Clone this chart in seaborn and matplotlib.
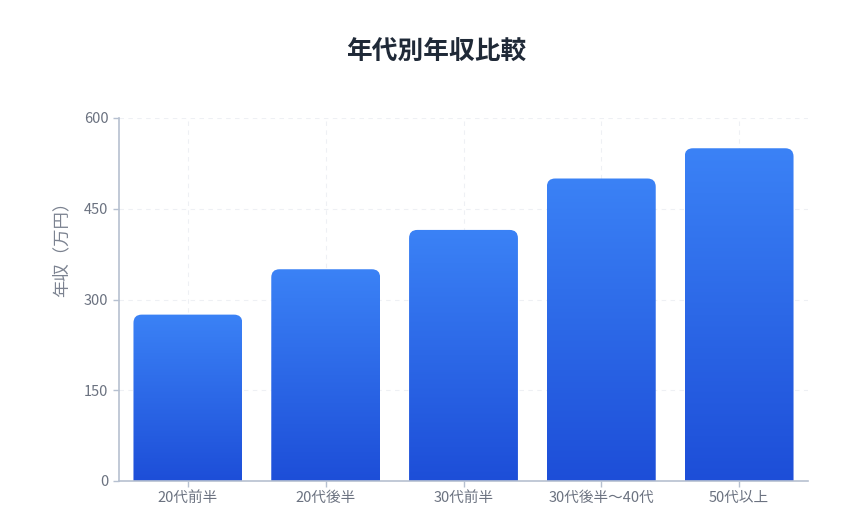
import numpy as np
import pandas as pd
import seaborn as sns
import matplotlib.pyplot as plt
from matplotlib.patches import FancyBboxPatch
from matplotlib.colors import LinearSegmentedColormap

categories = ['20代前半', '20代後半', '30代前半', '30代後半〜40代', '50代以上']
income = [275, 350, 415, 500, 550]
yticks = [0, 150, 300, 450, 600]

df = pd.DataFrame({'age': categories, 'income': income})

sns.set_theme(style='white')
plt.rcParams['font.family'] = ['Noto Sans CJK JP', 'DejaVu Sans']

fig = plt.figure(figsize=(8.6, 5.13), dpi=100)
ax = fig.add_axes([119 / 860, 1 - 481 / 513, (808 - 119) / 860, (481 - 118) / 513])

sns.barplot(data=df, x='age', y='income', ax=ax, width=0.79, color='#2563eb')
ax.set_ylim(0, 600)
ax.set_xlim(-0.5, 4.5)

# gradient bars with rounded tops
cmap = LinearSegmentedColormap.from_list('blu', ['#1d4ed8', '#3b82f6'])
grad = np.linspace(0, 1, 256).reshape(-1, 1)
for p in list(ax.patches):
    x0, w, h = p.get_x(), p.get_width(), p.get_height()
    p.set_visible(False)
    clip = FancyBboxPatch((x0, -20), w, h + 20,
                          boxstyle='round,pad=0,rounding_size=0.06',
                          mutation_aspect=228, transform=ax.transData,
                          facecolor='none', edgecolor='none')
    ax.add_patch(clip)
    im = ax.imshow(grad, cmap=cmap, origin='lower', aspect='auto',
                   extent=(x0, x0 + w, 0, h), zorder=2)
    im.set_clip_path(clip)
ax.set_xlim(-0.5, 4.5)
ax.set_ylim(0, 600)

ax.set_yticks(yticks)
ax.grid(True, color='#eef0f4', linestyle=(0, (4, 4)), linewidth=0.8)
ax.set_axisbelow(True)
for s in ['top', 'right']:
    ax.spines[s].set_visible(False)
for s in ['left', 'bottom']:
    ax.spines[s].set_color('#b6c0d0')
    ax.spines[s].set_linewidth(1.2)
ax.tick_params(axis='both', colors='#b6c0d0', labelcolor='#6b7280',
               labelsize=10.5, length=4, width=1, direction='out')
ax.tick_params(axis='both', left=True, bottom=True)

ax.set_xlabel('')
ax.set_ylabel('年収（万円）', fontsize=12.5, color='#7b8290')
ax.yaxis.set_label_coords(-0.07, 0.65)

fig.text(436 / 860, 1 - 52 / 513, '年代別年収比較', ha='center', va='center',
         fontsize=18.5, fontweight='bold', color='#1f2937')

fig.savefig('out.png', dpi=100, facecolor='white')
